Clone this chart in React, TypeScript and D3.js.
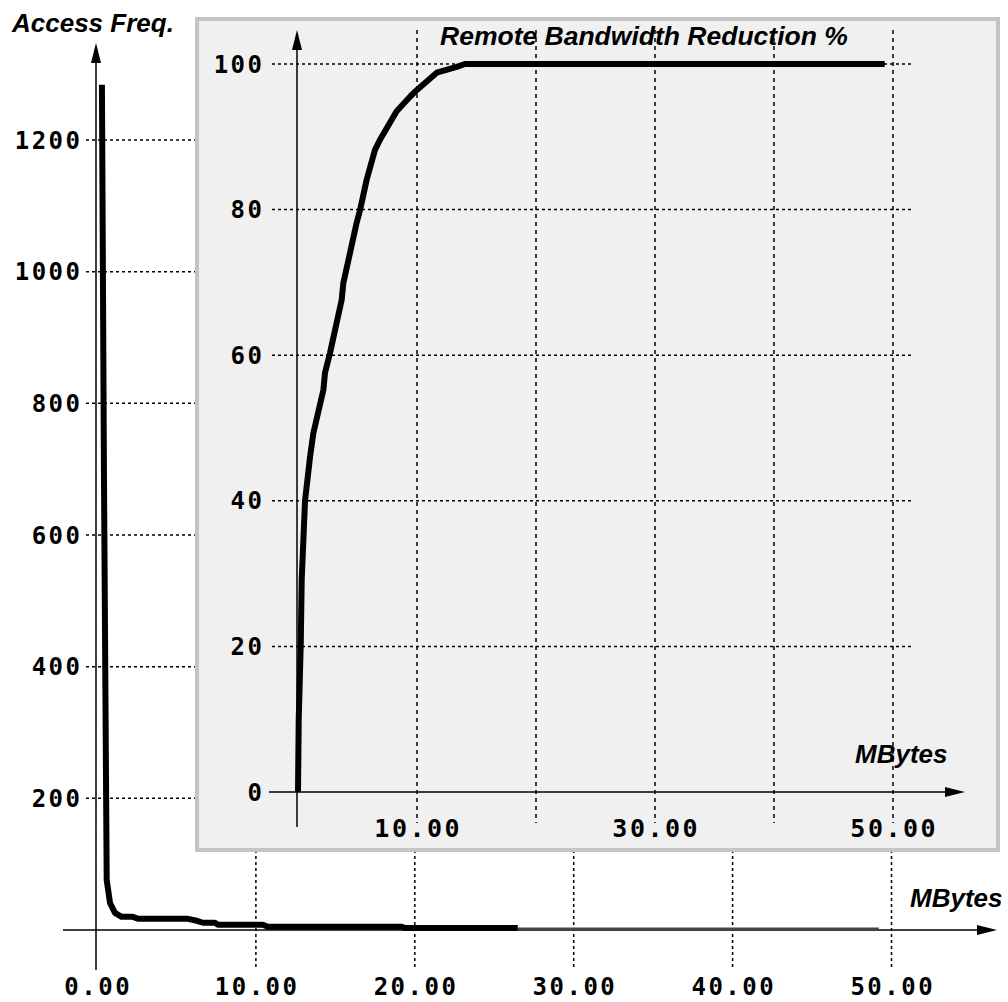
import React from "react";
import * as d3 from "d3";

// Main chart: access frequency vs MBytes
const mainMB = [0.31, 0.44, 0.61, 0.82, 1.13, 1.55, 2.26, 2.58, 5.72, 6.29, 6.67, 7.42, 7.61, 10.44, 10.75, 19.18, 19.37, 26.48];
const mainFreq = [1284, 684, 76, 41, 26, 20, 20, 17, 17, 14, 11, 11, 8, 8, 5, 5, 3, 3];
const tailMB = [26.48, 49.2];
const tailFreq = [1.5, 1.5];
const mainYTicks = [200, 400, 600, 800, 1000, 1200];
const mainXTicks = [0, 10, 20, 30, 40, 50];

// Inset: remote bandwidth reduction % vs MBytes
const insetMB = [0, 0.06, 0.23, 0.31, 0.59, 1.01, 1.29, 2.13, 2.27, 2.69, 3.67, 3.81, 4.93, 5.21, 5.77, 6.47, 6.89, 8.29, 9.41, 9.97, 11.66, 13.34, 14.03, 49.3];
const insetPct = [0, 9.9, 20.2, 29.1, 40, 46, 49.3, 55.2, 57.6, 60.3, 67.6, 69.9, 78.2, 79.9, 84.1, 88.2, 89.6, 93.5, 95.5, 96.4, 98.8, 99.6, 100, 100];
const insetYTicks = [0, 20, 40, 60, 80, 100];
const insetXGrid = [10, 20, 30, 40, 50];
const insetXLabels = [10, 30, 50];

const monoFont = "'DejaVu Sans Mono', monospace";
const sansFont = "'Liberation Sans', Arial, sans-serif";

export default function App() {
  const W = 1008, H = 1002;
  const x = d3.scaleLinear().domain([0, 50]).range([97, 891.5]);
  const y = d3.scaleLinear().domain([0, 1200]).range([930, 140]);
  const ix = d3.scaleLinear().domain([0, 50]).range([298, 893]);
  const iy = d3.scaleLinear().domain([0, 100]).range([792, 64]);

  const mainLine = d3.line<number>().x((_, i) => x(mainMB[i])).y((d) => y(d));
  const tailLine = d3.line<number>().x((_, i) => x(tailMB[i])).y((d) => y(d));
  const insetLine = d3.line<number>().x((_, i) => ix(insetMB[i])).y((d) => iy(d));

  const grid = { stroke: "#000", strokeWidth: 1.5, strokeDasharray: "3,3" };
  const labelStyle: React.CSSProperties = { fontFamily: monoFont, fontSize: 24, fontWeight: "bold", letterSpacing: 2.5 };

  return (
    <svg width={W} height={H} style={{ position: "absolute", left: 0, top: 0, background: "#fff" }}>
      <rect x={0} y={0} width={W} height={H} fill="#fff" />
      {/* main grid */}
      {mainYTicks.map((t) => (
        <line key={"mg" + t} x1={86} x2={900} y1={y(t)} y2={y(t)} {...grid} />
      ))}
      {mainXTicks.filter((t) => t > 0).map((t) => (
        <line key={"mx" + t} x1={x(t)} x2={x(t)} y1={40} y2={968} {...grid} />
      ))}
      {/* main axes */}
      <line x1={96} x2={96} y1={970} y2={55} stroke="#000" strokeWidth={1.5} />
      <path d="M96,43 L101,63 L91,63 Z" fill="#000" />
      <line x1={63} x2={985} y1={930} y2={930} stroke="#000" strokeWidth={1.5} />
      <path d="M997,930 L977,925 L977,935 Z" fill="#000" />
      {/* main curve */}
      <path d={tailLine(tailFreq) || ""} fill="none" stroke="#444" strokeWidth={3} />
      <path d={mainLine(mainFreq) || ""} fill="none" stroke="#000" strokeWidth={6} strokeLinejoin="round" />
      {/* main labels */}
      {mainYTicks.map((t) => (
        <text key={"ml" + t} x={80 + 2.5} y={y(t)} dy="0.36em" textAnchor="end" style={labelStyle}>{t}</text>
      ))}
      {mainXTicks.map((t) => (
        <text key={"mxl" + t} x={x(t) + 1.25} y={995} textAnchor="middle" style={labelStyle}>{t.toFixed(2)}</text>
      ))}
      <text x={12} y={32} style={{ fontFamily: sansFont, fontSize: 26, fontWeight: "bold", fontStyle: "italic" }}>Access Freq.</text>
      <text x={910} y={907} style={{ fontFamily: sansFont, fontSize: 26, fontWeight: "bold", fontStyle: "italic" }}>MBytes</text>

      {/* inset */}
      <rect x={197} y={19} width={801} height={831} fill="#f0f0f0" stroke="#c4c4c4" strokeWidth={4} />
      {insetYTicks.filter((t) => t > 0).map((t) => (
        <line key={"ig" + t} x1={272} x2={912} y1={iy(t)} y2={iy(t)} {...grid} />
      ))}
      {insetXGrid.map((t) => (
        <line key={"ixg" + t} x1={ix(t)} x2={ix(t)} y1={30} y2={823} {...grid} strokeDasharray="4,4" />
      ))}
      <line x1={297} x2={297} y1={827} y2={45} stroke="#000" strokeWidth={1.5} />
      <path d="M297,30 L302,50 L292,50 Z" fill="#000" />
      <line x1={269} x2={950} y1={792} y2={792} stroke="#000" strokeWidth={1.5} />
      <path d="M965,792 L945,787 L945,797 Z" fill="#000" />
      <path d={insetLine(insetPct) || ""} fill="none" stroke="#000" strokeWidth={6} strokeLinejoin="round" />
      {insetYTicks.map((t) => (
        <text key={"il" + t} x={262 + 2.5} y={iy(t)} dy="0.36em" textAnchor="end" style={labelStyle}>{t}</text>
      ))}
      {insetXLabels.map((t) => (
        <text key={"ixl" + t} x={ix(t) + 1.25} y={837} textAnchor="middle" style={{ ...labelStyle, fontSize: 25 }}>{t.toFixed(2)}</text>
      ))}
      <text x={440} y={45} style={{ fontFamily: sansFont, fontSize: 26.5, fontWeight: "bold", fontStyle: "italic" }}>Remote Bandwidth Reduction %</text>
      <text x={855} y={763} style={{ fontFamily: sansFont, fontSize: 26, fontWeight: "bold", fontStyle: "italic" }}>MBytes</text>
    </svg>
  );
}
